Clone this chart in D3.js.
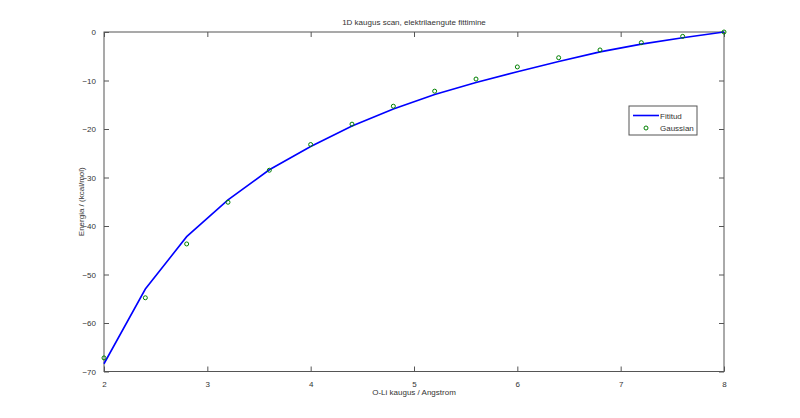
<!DOCTYPE html>
<html>
<head>
<meta charset="UTF-8">
<title>1D kaugus scan</title>
<script src="https://cdn.jsdelivr.net/npm/d3@7"></script>
<style>
    body { margin: 0; background: #fff; }
    text { font-family: "Liberation Sans", Arial, sans-serif; fill: #333; }
</style>
</head>
<body>
<svg id="chart" width="800" height="418"></svg>
<script>
    // O-Li kaugus (Angstrom)
    const distances = [2.0, 2.4, 2.8, 3.2, 3.6, 4.0, 4.4, 4.8, 5.2, 5.6, 6.0, 6.4, 6.8, 7.2, 7.6, 8.0];
    // fititud energia
    const fitted = [-68.4, -53.0, -42.2, -34.6, -28.4, -23.6, -19.4, -15.9, -12.9, -10.4, -8.2, -6.1, -4.1, -2.5, -1.2, 0];
    // Gaussian energia
    const gaussian = [-67.2, -54.8, -43.7, -35.1, -28.5, -23.2, -19.0, -15.3, -12.2, -9.7, -7.2, -5.3, -3.7, -2.2, -0.9, 0];
    const xTicks = [2, 3, 4, 5, 6, 7, 8];
    const yTicks = [0, -10, -20, -30, -40, -50, -60, -70];

    const svg = d3.select("#chart");
    const plotL = 104, plotR = 724, plotT = 32, plotB = 371.5;
    const axisColor = "#555";

    const x = d3.scaleLinear().domain([2, 8]).range([plotL, plotR]);
    const y = d3.scaleLinear().domain([-70, 0]).range([plotB, plotT]);

    // box
    svg.append("rect")
        .attr("x", plotL).attr("y", plotT)
        .attr("width", plotR - plotL).attr("height", plotB - plotT)
        .attr("fill", "none").attr("stroke", axisColor).attr("stroke-width", 1);

    function styleAxis(g) {
        g.select(".domain").remove();
        g.selectAll("line").attr("stroke", axisColor);
        g.selectAll("text").attr("font-size", 8).attr("fill", "#333")
            .style("font-family", "'Liberation Sans', Arial, sans-serif");
    }

    svg.append("g").attr("transform", `translate(0,${plotB})`)
        .call(d3.axisBottom(x).tickValues(xTicks).tickFormat(d3.format("d")).tickSizeInner(-5).tickPadding(10))
        .call(styleAxis);
    svg.append("g").attr("transform", `translate(0,${plotT})`)
        .call(d3.axisTop(x).tickValues(xTicks).tickFormat("").tickSizeInner(-5))
        .call(styleAxis);
    svg.append("g").attr("transform", `translate(${plotL},0)`)
        .call(d3.axisLeft(y).tickValues(yTicks).tickFormat(d3.format("d")).tickSizeInner(-5).tickPadding(8))
        .call(styleAxis);
    svg.append("g").attr("transform", `translate(${plotR},0)`)
        .call(d3.axisRight(y).tickValues(yTicks).tickFormat("").tickSizeInner(-5))
        .call(styleAxis);

    // fitted line
    const line = d3.line().x((d, i) => x(distances[i])).y(d => y(d));
    svg.append("path")
        .datum(fitted)
        .attr("d", line)
        .attr("fill", "none")
        .attr("stroke", "#0000ff")
        .attr("stroke-width", 1.6);

    // gaussian markers
    svg.append("g").selectAll("circle")
        .data(gaussian)
        .join("circle")
        .attr("cx", (d, i) => x(distances[i]))
        .attr("cy", d => y(d))
        .attr("r", 2)
        .attr("fill", "none")
        .attr("stroke", "#008000")
        .attr("stroke-width", 1);

    // titles
    svg.append("text")
        .attr("x", (plotL + plotR) / 2).attr("y", 25)
        .attr("text-anchor", "middle").attr("font-size", 8)
        .text("1D kaugus scan, elektrilaengute fittimine");
    svg.append("text")
        .attr("x", (plotL + plotR) / 2).attr("y", 395)
        .attr("text-anchor", "middle").attr("font-size", 8)
        .text("O-Li kaugus / Angstrom");
    svg.append("text")
        .attr("transform", `translate(84,${(plotT + plotB) / 2}) rotate(-90)`)
        .attr("text-anchor", "middle").attr("font-size", 8)
        .text("Energia / (kcal/mol)");

    // legend
    const lg = svg.append("g").attr("transform", "translate(629,106)");
    lg.append("rect").attr("width", 68).attr("height", 29)
        .attr("fill", "#fff").attr("stroke", axisColor);
    lg.append("line").attr("x1", 4).attr("x2", 30).attr("y1", 9.5).attr("y2", 9.5)
        .attr("stroke", "#0000ff").attr("stroke-width", 1.6);
    lg.append("text").attr("x", 31).attr("y", 12.5).attr("font-size", 8).text("Fititud");
    lg.append("circle").attr("cx", 17).attr("cy", 22).attr("r", 2)
        .attr("fill", "none").attr("stroke", "#008000");
    lg.append("text").attr("x", 31).attr("y", 25).attr("font-size", 8).text("Gaussian");
</script>
</body>
</html>
